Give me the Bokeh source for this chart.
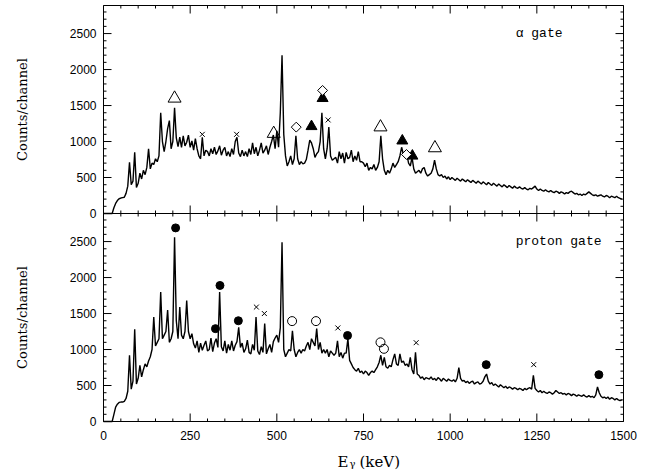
from math import pi
from bokeh.plotting import figure
from bokeh.models import Range1d, Label, BoxAnnotation
from bokeh.core.properties import value
from bokeh.embed import file_html
from bokeh.resources import INLINE

# ---------------- data ----------------
# energy bins (keV), 5 keV wide
energy = list(range(0, 1500, 5))

alpha_counts = [
    0, 0, 0, 0, 0, 0, 80, 140, 180, 205, 215, 220, 225, 280, 380, 710, 400, 450, 850, 360,
    420, 560, 480, 600, 540, 640, 900, 620, 700, 680, 760, 720, 800, 1400, 1000, 860, 1000, 1180, 1290, 900,
    1000, 1470, 1050, 930, 1060, 920, 1080, 940, 990, 1090, 920, 1010, 880, 1040, 900, 800, 760, 1060, 800, 880,
    860, 800, 900, 830, 920, 820, 870, 940, 810, 880, 920, 800, 860, 790, 900, 820, 1000, 1060, 840, 790,
    880, 800, 860, 790, 900, 820, 980, 830, 920, 800, 880, 980, 840, 880, 940, 820, 920, 1000, 1090, 900,
    1150, 920, 1400, 2200, 1100, 800, 660, 720, 800, 680, 760, 1080, 760, 680, 720, 690, 700, 750, 880, 1020,
    980, 900, 780, 830, 860, 1000, 1400, 900, 760, 900, 1200, 800, 740, 760, 780, 700, 860, 760, 840, 700,
    850, 760, 780, 880, 720, 800, 740, 860, 720, 720, 700, 650, 700, 600, 640, 620, 680, 600, 640, 720,
    1080, 760, 600, 540, 600, 560, 620, 700, 640, 680, 720, 800, 920, 820, 780, 820, 700, 660, 780, 620,
    560, 580, 600, 560, 620, 640, 560, 520, 540, 560, 620, 740, 620, 540, 520, 540, 500, 520, 480, 510,
    470, 500, 480, 460, 490, 470, 450, 480, 460, 440, 470, 450, 430, 460, 440, 420, 450, 430, 410, 440,
    420, 400, 430, 410, 390, 420, 400, 380, 410, 390, 370, 400, 380, 360, 390, 370, 350, 380, 360, 350,
    370, 350, 340, 360, 340, 330, 350, 340, 360, 380, 340, 320, 340, 320, 310, 330, 310, 300, 320, 300,
    290, 310, 300, 280, 300, 290, 270, 290, 280, 300, 310, 290, 270, 280, 260, 270, 250, 270, 260, 280,
    300, 280, 260, 250, 260, 240, 250, 260, 240, 230, 250, 240, 220, 240, 230, 220, 240, 220, 210, 200,
]

proton_counts = [
    0, 0, 0, 0, 0, 0, 100, 200, 240, 265, 270, 270, 280, 320, 420, 920, 450, 560, 1280, 520,
    600, 780, 620, 720, 800, 760, 840, 900, 1000, 1450, 1050, 1100, 1150, 1800, 1150, 1200, 1250, 1550, 1100, 1150,
    1250, 2560, 1400, 1150, 1590, 1200, 1150, 1250, 1680, 1250, 1150, 1220, 1080, 1020, 1120, 960, 1090, 990, 1060, 1120,
    980, 1000, 1160, 970, 1090, 1150, 1030, 1800, 1040, 980, 1120, 950, 1070, 990, 1120, 980, 1060, 1110, 1310, 1030,
    1090, 960, 1010, 1130, 960, 940, 1070, 990, 1450, 980, 930, 1040, 960, 1360, 940, 1010, 1070, 960, 1110, 1160,
    1200, 1100, 1300, 2490, 1000, 900, 950, 1000, 980, 1260, 1000, 900, 960, 1000, 950, 1000, 980, 1050, 1100, 1000,
    1150, 1100, 1050, 1290, 1000, 1100, 950, 1000, 950, 1000, 900, 980, 950, 920, 950, 1120, 900, 960, 880, 950,
    950, 1150, 850, 800, 750, 720, 700, 740, 680, 700, 660, 700, 680, 640, 680, 700, 680, 720, 760, 820,
    920, 780, 890, 760, 740, 780, 760, 860, 940, 800, 780, 940, 820, 840, 780, 800, 760, 890, 720, 660,
    960, 660, 640, 600, 620, 580, 610, 600, 590, 620, 580, 600, 570, 610, 590, 560, 600, 580, 560, 590,
    570, 560, 580, 550, 600, 750, 600, 560, 570, 540, 560, 530, 550, 560, 520, 540, 550, 520, 530, 560,
    620, 660, 560, 520, 540, 500, 520, 500, 480, 510, 490, 470, 490, 460, 480, 470, 450, 470, 460, 440,
    460, 450, 430, 460, 440, 460, 470, 450, 640, 460, 430, 410, 430, 400, 420, 400, 390, 410, 400, 380,
    400, 430, 410, 390, 400, 380, 390, 370, 390, 380, 360, 380, 370, 350, 370, 360, 350, 370, 350, 340,
    360, 340, 350, 330, 370, 480, 400, 350, 330, 340, 320, 340, 310, 330, 320, 300, 320, 300, 290, 300,
]

# peak markers: alpha gate
alpha_open_tri_e = [205, 491, 799, 956]
alpha_open_tri_y = [1600, 1110, 1200, 910]
alpha_filled_tri_e = [600, 632, 862, 891]
alpha_filled_tri_y = [1210, 1600, 1010, 800]
alpha_diamond_e = [556, 632, 874]
alpha_diamond_y = [1200, 1710, 820]
alpha_cross_e = [285, 384, 648]
alpha_cross_y = [1100, 1100, 1300]

# peak markers: proton gate
proton_filled_circ_e = [208, 323, 336, 389, 704, 1104, 1429]
proton_filled_circ_y = [2690, 1290, 1890, 1400, 1195, 790, 650]
proton_open_circ_e = [544, 613, 799, 809]
proton_open_circ_y = [1395, 1395, 1100, 1010]
proton_cross_e = [441, 464, 676, 902, 1241]
proton_cross_y = [1590, 1500, 1300, 1095, 790]

# axes
X_MAX = 1500
YMAX = 2890
x_major = [0, 250, 500, 750, 1000, 1250, 1500]
x_labels = ["0", "250", "500", "750", "1000", "1250", "1500"]
x_minor = list(range(0, 1501, 50))
y_major = [0, 500, 1000, 1500, 2000, 2500]
y_labels = ["0", "500", "1000", "1500", "2000", "2500"]
y_minor = list(range(0, 2801, 100))

n = min(len(energy), len(alpha_counts), len(proton_counts))
energy, alpha_counts, proton_counts = energy[:n], alpha_counts[:n], proton_counts[:n]

# ---------------- layout (pixels) ----------------
W, H = 659, 471
FL, FR, FT, FB = 103, 623, 5, 421          # frame box in canvas pixels
kx = X_MAX / (FR - FL)                     # keV per pixel
ky = 2 * YMAX / (FB - FT)                  # counts per pixel

p = figure(width=W, height=H, output_backend="svg", toolbar_location=None,
           x_range=Range1d(-FL * kx, (W - FL) * kx),
           y_range=Range1d(-(H - FB) * ky, 2 * YMAX + FT * ky),
           x_axis_location=None, y_axis_location=None,
           min_border_left=0, min_border_right=0, min_border_top=0, min_border_bottom=0)
p.extra_y_ranges = {"top": Range1d(-YMAX - (H - FB) * ky, YMAX + FT * ky)}
p.outline_line_color = None
p.background_fill_color = "white"
p.border_fill_color = "white"
p.xgrid.visible = False
p.ygrid.visible = False

# panel frames
for rng in ("default", "top"):
    p.add_layout(BoxAnnotation(left=0, right=X_MAX, bottom=0, top=YMAX, y_range_name=rng,
                               fill_alpha=0, line_color="black", line_width=1, line_alpha=1))

# ticks (all pointing into the panels)
MAJ, MIN = 8, 3
x_minor_only = [v for v in x_minor if v not in x_major]
y_minor_only = [v for v in y_minor if v not in y_major]
TK = dict(line_color="black", line_width=1, length_units="screen")


def xticks(yv, ang, rng):
    p.ray(x_major, [yv] * len(x_major), length=MAJ, angle=ang, y_range_name=rng, **TK)
    p.ray(x_minor_only, [yv] * len(x_minor_only), length=MIN, angle=ang, y_range_name=rng, **TK)


def yticks(xv, ang, rng):
    p.ray([xv] * len(y_major), y_major, length=MAJ, angle=ang, y_range_name=rng, **TK)
    p.ray([xv] * len(y_minor_only), y_minor_only, length=MIN, angle=ang, y_range_name=rng, **TK)


for rng in ("default", "top"):
    xticks(0, pi / 2, rng)        # bottom edge of panel
    xticks(YMAX, -pi / 2, rng)    # top edge of panel
    yticks(0, 0, rng)             # left edge
    yticks(X_MAX, pi, rng)        # right edge

# tick labels
LBL = dict(text_font=value("Liberation Sans"), text_font_size="12px", text_color="black")
for rng in ("default", "top"):
    p.text([0] * len(y_major), y_major, text=y_labels, x_offset=-7, text_align="right",
           text_baseline="middle", y_range_name=rng, **LBL)
p.text(x_major, [0] * len(x_major), text=x_labels, y_offset=9, text_align="center",
       text_baseline="top", **LBL)

# spectra
p.line(energy, proton_counts, line_color="black", line_width=1.4)
p.line(energy, alpha_counts, line_color="black", line_width=1.4, y_range_name="top")

# markers, alpha gate
p.scatter(alpha_open_tri_e, alpha_open_tri_y, marker="triangle", size=13, fill_color=None,
          line_color="black", line_width=1, y_range_name="top")
p.scatter(alpha_filled_tri_e, alpha_filled_tri_y, marker="triangle", size=11, fill_color="black",
          line_color="black", line_width=1, y_range_name="top")
p.scatter(alpha_diamond_e, alpha_diamond_y, marker="square", angle=pi / 4, size=7, fill_color="white",
          line_color="black", line_width=1, y_range_name="top")
p.scatter(alpha_cross_e, alpha_cross_y, marker="x", size=7, line_color="black", line_width=1,
          y_range_name="top")

# markers, proton gate
p.scatter(proton_filled_circ_e, proton_filled_circ_y, marker="circle", size=8, fill_color="black",
          line_color="black")
p.scatter(proton_open_circ_e, proton_open_circ_y, marker="circle", size=9, fill_color=None,
          line_color="black", line_width=1)
p.scatter(proton_cross_e, proton_cross_y, marker="x", size=7, line_color="black", line_width=1)

# panel labels
p.add_layout(Label(x=1189, y=2500, y_range_name="top", text="\u03b1 gate", text_baseline="middle",
                   text_font="Liberation Mono", text_font_size="13px", text_color="black"))
p.add_layout(Label(x=1189, y=2500, text="proton gate", text_baseline="middle",
                   text_font="Liberation Mono", text_font_size="13px", text_color="black"))

# y axis titles (canvas pixel positions, centred on each panel)
MID = (FT + FB) / 2
for cy in ((FT + MID) / 2, (MID + FB) / 2):
    p.add_layout(Label(x=22, y=cy, x_units="canvas", y_units="canvas", text="Counts/channel",
                       angle=pi / 2, text_align="center", text_baseline="middle",
                       text_font="DejaVu Serif", text_font_size="13px", text_color="black"))

# x axis title: E_gamma (keV)
XT = dict(x_units="canvas", y_units="canvas", text_align="left", text_baseline="alphabetic",
          text_font="DejaVu Serif", text_color="black")
p.add_layout(Label(x=337, y=461, text="E", text_font_size="15px", **XT))
p.add_layout(Label(x=349, y=463, text="\u03b3", text_font_size="10px", **XT))
p.add_layout(Label(x=359, y=461, text="(keV)", text_font_size="15px", **XT))

open("out.html", "w").write(file_html(p, INLINE))
